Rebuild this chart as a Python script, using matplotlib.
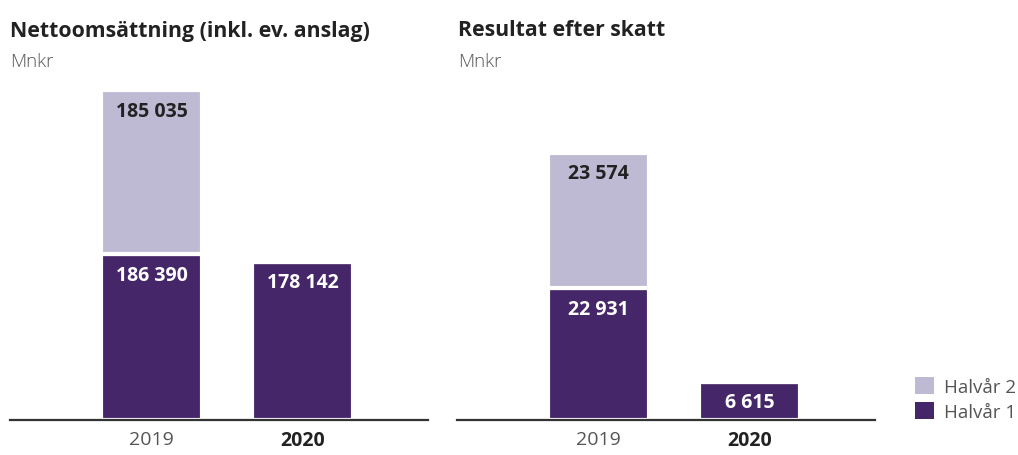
import matplotlib
matplotlib.use("Agg")
import matplotlib.pyplot as plt
from matplotlib.patches import Patch

plt.rcParams['font.family'] = ['Open Sans', 'DejaVu Sans']

# --- data ---
years = ["2019", "2020"]
sales_h1 = [186390, 178142]
sales_h2 = [185035, 0]
profit_h1 = [22931, 6615]
profit_h2 = [23574, 0]

titles = ["Nettoomsättning (inkl. ev. anslag)", "Resultat efter skatt"]
unit = "Mnkr"
legend_labels = ["Halvår 2", "Halvår 1"]

DARK = "#452668"
LIGHT = "#BEBAD4"
W, H = 1018, 456


def fmt(v):
    return f"{v:,}".replace(",", " ")


def draw(ax, h1, h2, ymax):
    x = range(len(years))
    ax.bar(x, h1, width=0.67, color=DARK, edgecolor="white", linewidth=3)
    ax.bar(x, h2, bottom=h1, width=0.67, color=LIGHT, edgecolor="white", linewidth=3)
    for i in x:
        ax.annotate(fmt(h1[i]), (i, h1[i]), xytext=(0, -7.5), textcoords="offset points",
                    ha="center", va="top", color="white", fontsize=14, fontweight="bold")
        if h2[i] > 0:
            ax.annotate(fmt(h2[i]), (i, h1[i] + h2[i]), xytext=(0, -7.5), textcoords="offset points",
                        ha="center", va="top", color="#222222", fontsize=14, fontweight="bold")
    ax.set_xlim(-0.9375, 1.83)
    ax.set_ylim(0, ymax)
    for s in ["top", "right", "left"]:
        ax.spines[s].set_visible(False)
    ax.spines["bottom"].set_color("#333333")
    ax.spines["bottom"].set_linewidth(1.6)
    ax.spines["bottom"].set_zorder(5)
    ax.set_yticks([])
    ax.set_xticks(list(x))
    ax.set_xticklabels(years, fontsize=14)
    ax.tick_params(axis="x", length=0, pad=7)
    lbls = ax.get_xticklabels()
    lbls[0].set_color("#555555")
    lbls[1].set_color("#222222")
    lbls[1].set_fontweight("bold")


fig = plt.figure(figsize=(W / 100, H / 100), dpi=100)
bottom = 35 / H
height = 341 / H
ax1 = fig.add_axes([10 / W, bottom, 418 / W, height])
ax2 = fig.add_axes([457 / W, bottom, 418 / W, height])

draw(ax1, sales_h1, sales_h2, 384000)
draw(ax2, profit_h1, profit_h2, 59300)

for xpx, t in [(10, titles[0]), (458, titles[1])]:
    fig.text(xpx / W, 1 - 31 / H, t, ha="left", va="center", fontsize=15.3,
             fontweight="bold", color="#222222")
    fig.text(xpx / W, 1 - 62 / H, unit, ha="left", va="center", fontsize=13.5,
             fontweight="light", color="#555555")

handles = [Patch(facecolor=LIGHT, edgecolor="none"), Patch(facecolor=DARK, edgecolor="none")]
fig.legend(handles, legend_labels, loc="upper left", bbox_to_anchor=(907 / W, 1 - 370 / H),
           frameon=False, fontsize=13.5, handlelength=1.05, handleheight=1.05,
           handletextpad=0.55, labelspacing=0.32, borderaxespad=0, labelcolor="#555555")

fig.savefig("out.png", dpi=100)
